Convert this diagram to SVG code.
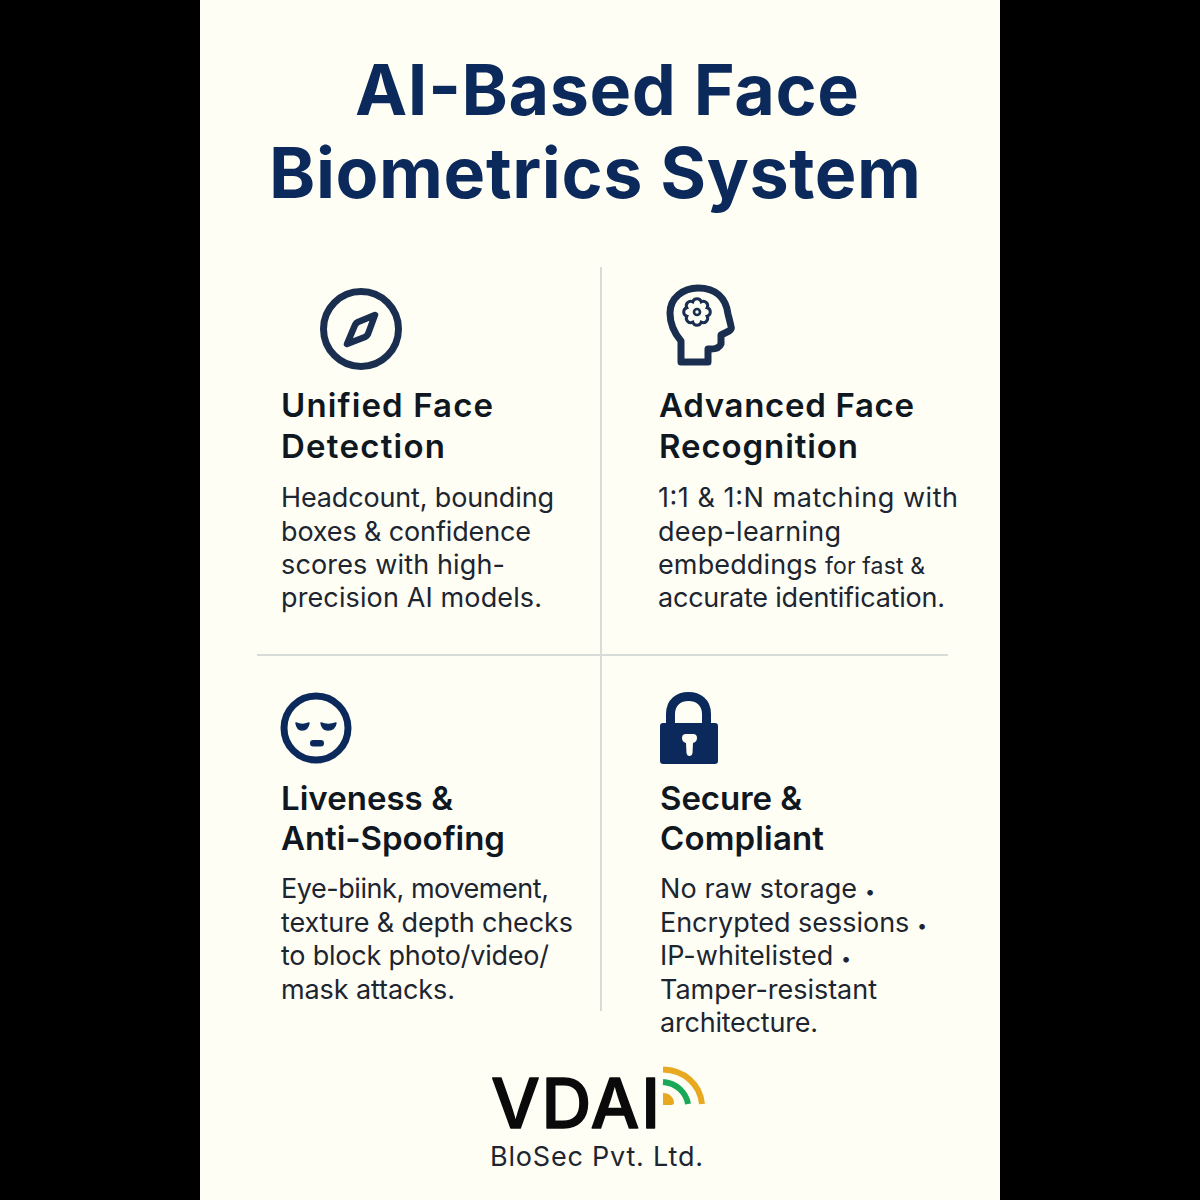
<svg xmlns="http://www.w3.org/2000/svg" width="1200" height="1200" viewBox="0 0 1200 1200">
<style>
text{font-family:Inter,"Liberation Sans",sans-serif}
.t{font-size:70px;font-weight:700;fill:#0b2a5b}
.h{font-size:33px;font-weight:600;fill:#0f1720}
.b{font-size:27px;font-weight:400;fill:#1c2530}
.ln{stroke:#d8dcd8;stroke-width:2;fill:none}
.ic{fill:none;stroke:#1a2f50;stroke-width:7;stroke-linejoin:round;stroke-linecap:round}
</style>
<rect width="1200" height="1200" fill="#000"/>
<rect x="200" width="800" height="1200" fill="#fffef5"/>
<g id="title"><text class="t" x="355" y="115" textLength="504">AI-Based Face</text><text class="t" x="269" y="198" textLength="652">Biometrics System</text></g>
<g id="dividers"><path class="ln" d="M601 267V1011M257 655H948"/></g>
<g id="detection">
<circle class="ic" cx="361" cy="329" r="37.500"/>
<path class="ic" style="stroke-width:6.500" d="M375 315L358 322Q356 323 355 325L347 344L365 337Q367 336 368 334Z"/>
<text class="h" x="281" y="417" textLength="212">Unified Face</text><text class="h" x="281" y="458" textLength="164">Detection</text>
<text class="b" x="281" y="507" textLength="273">Headcount, bounding</text><text class="b" x="281" y="541" textLength="250">boxes &amp; confidence</text><text class="b" x="281" y="574" textLength="224">scores with high-</text><text class="b" x="281" y="607" textLength="261">precision AI models.</text>
</g>
<g id="recognition">
<path class="ic" d="M681 362V341Q670 328 670 313C670 298 683 288 698 288C716 288 726 298 728 314L731 326Q732 329 729 331L721 335V344Q719 349 711 349H708V362Z"/>
<path d="M707.160 316.210A4.400 4.400 0 0 1 701.210 322.160A4.400 4.400 0 0 1 692.790 322.160A4.400 4.400 0 0 1 686.840 316.210A4.400 4.400 0 0 1 686.840 307.790A4.400 4.400 0 0 1 692.790 301.840A4.400 4.400 0 0 1 701.210 301.840A4.400 4.400 0 0 1 707.160 307.790A4.400 4.400 0 0 1 707.160 316.210Z" fill="none" stroke="#1a2f50" stroke-width="3"/>
<circle cx="697" cy="312" r="3" fill="none" stroke="#1a2f50" stroke-width="2.600"/>
<text class="h" x="659" y="417" textLength="255">Advanced Face</text><text class="h" x="659" y="458" textLength="199">Recognition</text>
<text class="b" x="658" y="507" textLength="300">1:1 &amp; 1:N matching with</text><text class="b" x="658" y="541" textLength="183">deep-learning</text><text class="b" x="658" y="574" textLength="267">embeddings <tspan font-size="23">for fast &amp;</tspan></text><text class="b" x="658" y="607" textLength="287">accurate identification.</text>
</g>
<g id="liveness">
<circle cx="316" cy="728" r="32" fill="none" stroke="#0b2a5b" stroke-width="7"/>
<path d="M296 723Q302 726 309 723Q308 730 302 730Q297 730 296 723ZM321 723Q328 726 336 723Q335 730 328 730Q322 730 321 723Z" fill="#0b2a5b" stroke="#0b2a5b" stroke-width="1.500" stroke-linejoin="round"/>
<rect x="310" y="740" width="14" height="6.500" rx="3.200" fill="#0b2a5b"/>
<text class="h" x="281" y="810" textLength="172">Liveness &amp;</text><text class="h" x="281" y="850" textLength="224">Anti-Spoofing</text>
<text class="b" x="281" y="898" textLength="268">Eye-biink, movement,</text><text class="b" x="281" y="932" textLength="292">texture &amp; depth checks</text><text class="b" x="281" y="965" textLength="268">to block photo/video/</text><text class="b" x="281" y="999" textLength="174">mask attacks.</text>
</g>
<g id="secure">
<path d="M670.500 726V714C670.500 702 679 696.500 688.500 696.500C698 696.500 706.500 702 706.500 714V726" fill="none" stroke="#0b2a5b" stroke-width="9"/>
<rect x="660" y="723" width="58" height="41" rx="3" fill="#0b2a5b"/>
<path d="M682 738Q682 734 686 734H693Q697 734 697 738Q697 742 693 743L692.500 753Q692 756 689.500 756Q687 756 686.500 753L686 743Q682 742 682 738Z" fill="#fffef5"/>
<text class="h" x="660" y="810" textLength="142">Secure &amp;</text><text class="h" x="660" y="850" textLength="164">Compliant</text>
<text class="b" x="660" y="898" textLength="215">No raw storage <tspan font-size="18">•</tspan></text><text class="b" x="660" y="932" textLength="267">Encrypted sessions <tspan font-size="18">•</tspan></text><text class="b" x="660" y="965" textLength="191">IP-whitelisted <tspan font-size="18">•</tspan></text><text class="b" x="660" y="999" textLength="217">Tamper-resistant</text><text class="b" x="660" y="1032" textLength="158">architecture.</text>
</g>
<g id="logo">
<text x="491" y="1128" font-size="69" font-weight="500" fill="#0a0a0a" stroke="#0a0a0a" stroke-width="1.500" stroke-linejoin="round" textLength="169">VDAI</text>
<path d="M663 1069.500C684 1070 700 1084 702 1104" fill="none" stroke="#e8a820" stroke-width="6"/>
<path d="M663 1082C676 1083 686 1092 688 1104" fill="none" stroke="#18a858" stroke-width="6"/>
<path d="M663 1093C670 1093 674 1098 674 1103Q674 1105 670 1105H663Z" fill="#e8a820"/>
<text x="490" y="1166" font-size="27" fill="#1c2530" textLength="213">BloSec Pvt. Ltd.</text>
</g>
</svg>
